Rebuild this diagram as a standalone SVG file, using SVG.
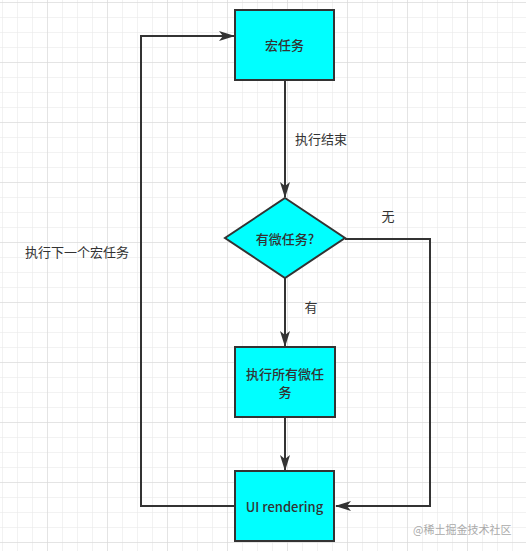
<svg xmlns="http://www.w3.org/2000/svg" width="526" height="551" viewBox="0 0 526 551">
<defs>
<pattern id="minor" x="2" y="2" width="15" height="15" patternUnits="userSpaceOnUse">
<path d="M15 0H0V15" fill="none" stroke="#e6e6e6" stroke-width="1"/>
</pattern>
<pattern id="major" x="47" y="2" width="60" height="60" patternUnits="userSpaceOnUse">
<path d="M60 0H0V60" fill="none" stroke="#d6d6d6" stroke-width="1"/>
</pattern>
<marker id="arr" viewBox="0 0 16 10" refX="15" refY="5" markerWidth="8" markerHeight="5" orient="auto" markerUnits="strokeWidth">
<path d="M0 0L16 5L0 10L4 5Z" fill="#333"/>
</marker>
<style>
.node{fill:#00ffff;stroke:#333;stroke-width:2}
.nt{font-family:"Noto Sans CJK SC","Liberation Sans",sans-serif;font-size:13px;fill:#333;text-anchor:middle;font-weight:500}
.lbl{font-family:"Noto Sans CJK SC","Liberation Sans",sans-serif;font-size:13px;fill:#333;text-anchor:middle}
.edge{fill:none;stroke:#333;stroke-width:2}
.wm{font-family:"Noto Sans CJK SC","Liberation Sans",sans-serif;font-size:11px;fill:#aaa}
</style>
</defs>
<rect width="526" height="551" fill="#fff"/>
<rect width="526" height="551" fill="url(#minor)"/>
<rect width="526" height="551" fill="url(#major)"/>
<g id="edges">
<path class="edge" d="M285 80V197" marker-end="url(#arr)"/>
<path class="edge" d="M285 278V346" marker-end="url(#arr)"/>
<path class="edge" d="M285 417V470" marker-end="url(#arr)"/>
<path class="edge" d="M345 239H430V506H336" marker-end="url(#arr)"/>
<path class="edge" d="M235 506H141V36H234" marker-end="url(#arr)"/>
<text class="lbl" x="321" y="144">执行结束</text>
<text class="lbl" x="388" y="221">无</text>
<text class="lbl" x="311" y="312">有</text>
<text class="lbl" x="77" y="257">执行下一个宏任务</text>
</g>
<g id="macro">
<rect class="node" x="235" y="10" width="99" height="70"/>
<text class="nt" x="284.5" y="50">宏任务</text>
</g>
<g id="decision">
<path class="node" d="M285 198L345 238L285 278L225 238Z"/>
<text class="nt" x="285" y="244">有微任务?</text>
</g>
<g id="micro">
<rect class="node" x="235" y="347" width="100" height="70"/>
<text class="nt" x="285" y="378.5">执行所有微任</text>
<text class="nt" x="285" y="396.5">务</text>
</g>
<g id="render">
<rect class="node" x="235" y="471" width="99" height="70"/>
<text class="nt" x="284.5" y="512">UI rendering</text>
</g>
<text class="wm" x="413" y="534">@稀土掘金技术社区</text>
</svg>
